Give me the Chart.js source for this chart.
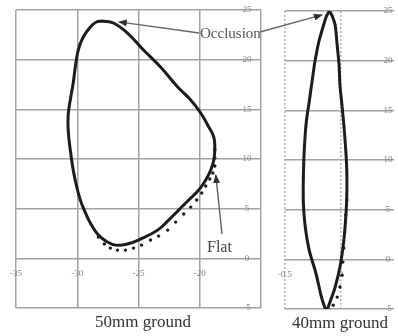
<!DOCTYPE html>
<html>
<head>
<meta charset="utf-8">
<script src="https://cdn.jsdelivr.net/npm/chart.js@4/dist/chart.umd.min.js"></script>
<style>
  html, body { margin: 0; padding: 0; background: #fff; overflow: hidden; }
  #wrap { position: relative; width: 398px; height: 336px; }
  .panel { position: absolute; top: 0; height: 336px; }
  #p50 { left: 0; width: 270px; }
  #p40 { left: 270px; width: 128px; }
  #overlay { position: absolute; left: 0; top: 0; width: 398px; height: 336px; pointer-events: none; }
  #overlay text { font-family: "Liberation Serif", "Times New Roman", serif; }
</style>
</head>
<body>
<div id="wrap">
  <div class="panel" id="p50"><canvas id="c50"></canvas></div>
  <div class="panel" id="p40"><canvas id="c40"></canvas></div>
  <svg id="overlay" width="398" height="336" xmlns="http://www.w3.org/2000/svg">
    <defs>
      <marker id="head" markerUnits="userSpaceOnUse" markerWidth="9" markerHeight="7" refX="8" refY="3.5" orient="auto">
        <path d="M0,0 L9,3.5 L0,7 Z" fill="#333"/>
      </marker>
    </defs>
    <line id="arrOcc50" stroke="#666" stroke-width="1.3" marker-end="url(#head)"/>
    <line id="arrOcc40" stroke="#666" stroke-width="1.3" marker-end="url(#head)"/>
    <line id="arrFlat" stroke="#555" stroke-width="1.3" marker-end="url(#head)"/>
    <text x="200" y="38" font-size="15" fill="#555">Occlusion</text>
    <text x="207" y="252" font-size="16" fill="#444">Flat</text>
    <text x="143" y="327" font-size="17" fill="#333" text-anchor="middle">50mm ground</text>
    <text x="340" y="328" font-size="17" fill="#333" text-anchor="middle">40mm ground</text>
  </svg>
</div>
<script>
// 50 mm ground: closed profile (solid) and the flat profile where it separates
const groundX50 = [-27.95,-27.05,-25.90,-24.59,-23.20,-21.80,-20.74,-19.92,-19.26,-18.85,-18.77,-18.85,-19.10,-19.51,-20.08,-20.90,-21.72,-22.54,-23.44,-24.84,-25.90,-26.89,-27.54,-28.28,-28.93,-29.43,-29.75,-30.08,-30.33,-30.57,-30.74,-30.74,-30.57,-30.33,-30.16,-29.92,-29.51,-28.93,-28.44,-27.95];
const groundY50 = [23.89,23.69,22.68,20.97,19.26,17.25,15.94,14.63,13.22,12.21,11.10,9.89,8.89,7.88,6.87,5.87,4.86,3.85,2.84,1.94,1.44,1.33,1.64,2.34,3.55,4.86,5.87,7.38,8.89,10.90,12.92,14.43,15.94,17.65,19.26,20.97,22.28,23.29,23.79,23.89];
const flatX50 = [-28.28,-27.79,-27.30,-26.72,-26.07,-25.41,-24.75,-24.02,-23.36,-22.62,-21.97,-21.31,-20.74,-20.25,-19.84,-19.51,-19.18,-18.93,-18.77,-18.77,-18.77];
const flatY50 = [2.14,1.44,1.03,0.83,0.83,1.03,1.33,1.84,2.24,2.84,3.65,4.46,5.16,5.87,6.57,7.28,7.98,8.59,9.29,10.10,10.90];

// 40 mm ground
const groundX40 = [-0.103,-0.078,-0.052,-0.034,-0.017,-0.009,0.009,0.026,0.043,0.052,0.052,0.043,0.026,-0.009,-0.052,-0.095,-0.129,-0.155,-0.181,-0.224,-0.284,-0.319,-0.336,-0.336,-0.328,-0.310,-0.284,-0.259,-0.233,-0.198,-0.155,-0.129,-0.103];
const groundY40 = [25.00,24.50,23.59,21.58,19.56,17.55,15.53,13.52,11.00,8.99,6.27,4.25,1.94,-0.78,-2.79,-4.20,-5.11,-4.51,-3.50,-1.38,0.93,3.25,5.66,8.28,11.00,13.82,15.84,17.85,19.86,21.88,23.59,24.50,25.00];
const flatX40 = [0.052,0.043,0.034,0.026,0.017,0.009,-0.009,-0.034,-0.069,-0.103];
const flatY40 = [5.97,4.46,2.74,1.13,-0.28,-1.59,-2.79,-3.80,-4.61,-5.11];

// axis ticks and their labels
const yTicks = [25, 20, 15, 10, 5, 0, -5];
const xTicks50 = [-35, -30, -25, -20, -15];
const xLabels50 = ['-35', '-30', '-25', '-20'];
const xTicks40 = [-0.5, 0];
const xLabels40 = ['-0.5', '0'];

// annotation targets (data units)
const occlusionTip50 = { x: -26.6, y: 23.8 };
const occlusionTip40 = { x: -0.17, y: 24.6 };
const flatTip50 = { x: -18.69, y: 8.38 };

const pts = (xs, ys) => xs.map((x, i) => ({ x, y: ys[i] }));

const tickLabelPlugin = {
  id: 'tickLabels',
  beforeDatasetsDraw(chart, args, opts) {
    const { ctx, chartArea } = chart;
    const sx = chart.scales.x, sy = chart.scales.y;
    ctx.save();
    ctx.font = '9px "Liberation Serif", serif';
    ctx.fillStyle = '#858585';
    ctx.textAlign = 'center';
    ctx.textBaseline = 'middle';
    const y0 = sy.getPixelForValue(0);
    opts.xLabels.forEach((lab, i) => ctx.fillText(lab, sx.getPixelForValue(opts.xTicks[i]), y0 + 15));
    yTicks.forEach(v => ctx.fillText(String(v), chartArea.right + opts.yLabelOffset, sy.getPixelForValue(v)));
    ctx.restore();
  }
};

function makeChart(id, cfg) {
  return new Chart(document.getElementById(id), {
    type: 'scatter',
    data: {
      datasets: [
        {
          data: cfg.ground,
          showLine: true,
          tension: cfg.tension,
          borderColor: '#1c1c1c',
          borderWidth: 3,
          pointStyle: 'rect',
          pointRadius: 1.4,
          pointBackgroundColor: '#1c1c1c',
          pointBorderWidth: 0
        },
        {
          data: cfg.flat,
          showLine: false,
          pointRadius: 1.7,
          pointBackgroundColor: '#1c1c1c',
          pointBorderWidth: 0
        }
      ]
    },
    options: {
      responsive: true,
      maintainAspectRatio: false,
      animation: false,
      events: [],
      layout: { padding: cfg.padding },
      plugins: {
        legend: { display: false },
        tooltip: { enabled: false },
        tickLabels: { xTicks: cfg.xTicks, xLabels: cfg.xLabels, yLabelOffset: cfg.yLabelOffset }
      },
      scales: {
        x: {
          type: 'linear', min: cfg.xMin, max: cfg.xMax,
          afterBuildTicks: s => { s.ticks = cfg.xTicks.map(v => ({ value: v })); },
          afterFit: s => { s.height = 0; },
          ticks: { display: false },
          grid: { color: cfg.xGridColor, lineWidth: 1.5, drawTicks: false },
          border: { display: false, dash: cfg.xDash }
        },
        y: {
          type: 'linear', min: -5, max: 25,
          afterBuildTicks: s => { s.ticks = yTicks.map(v => ({ value: v })); },
          afterFit: s => { s.width = 0; },
          ticks: { display: false },
          grid: { color: '#a2a2a2', lineWidth: 1.5, drawTicks: false },
          border: { display: false }
        }
      }
    },
    plugins: [tickLabelPlugin]
  });
}

const chart50 = makeChart('c50', {
  ground: pts(groundX50, groundY50),
  flat: pts(flatX50, flatY50),
  tension: 0.4,
  padding: { left: 16, right: 9, top: 10, bottom: 28 },
  xMin: -35, xMax: -15,
  xTicks: xTicks50, xLabels: xLabels50,
  xGridColor: '#a2a2a2', xDash: [],
  yLabelOffset: -14
});

const chart40 = makeChart('c40', {
  ground: pts(groundX40, groundY40),
  flat: pts(flatX40, flatY40),
  tension: 0.3,
  padding: { left: 15, right: 0, top: 11, bottom: 27 },
  xMin: -0.5, xMax: 0.474,
  xTicks: xTicks40, xLabels: xLabels40,
  xGridColor: '#b4b4b4', xDash: [2, 2],
  yLabelOffset: -6
});

// place annotation arrows on the data through each chart's scales
function pagePoint(chart, offsetLeft, p) {
  return [offsetLeft + chart.scales.x.getPixelForValue(p.x), chart.scales.y.getPixelForValue(p.y)];
}
function setLine(id, x1, y1, end) {
  const el = document.getElementById(id);
  el.setAttribute('x1', x1); el.setAttribute('y1', y1);
  el.setAttribute('x2', end[0]); el.setAttribute('y2', end[1]);
}
setLine('arrOcc50', 199, 33, pagePoint(chart50, 0, occlusionTip50));
setLine('arrOcc40', 260, 32, pagePoint(chart40, 270, occlusionTip40));
setLine('arrFlat', 222, 234, pagePoint(chart50, 0, flatTip50));
</script>
</body>
</html>
